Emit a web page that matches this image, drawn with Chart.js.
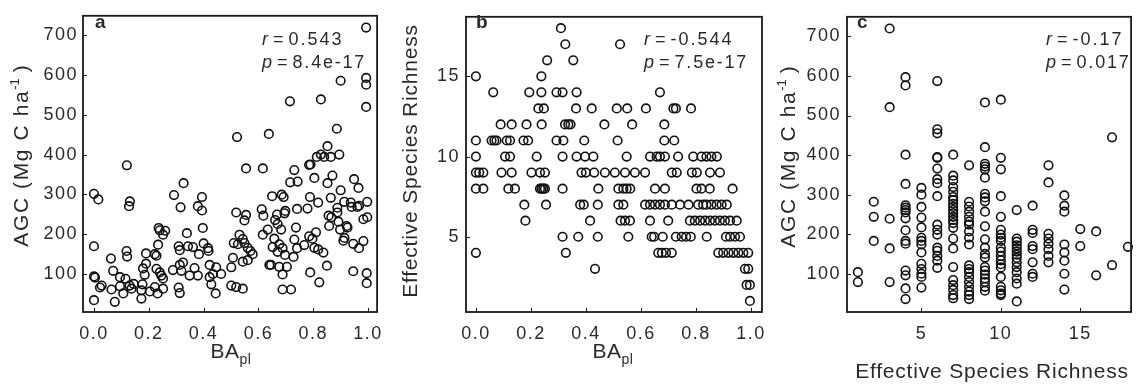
<!DOCTYPE html>
<html>
<head>
<meta charset="utf-8">
<script src="https://cdn.jsdelivr.net/npm/chart.js@4.4.1/dist/chart.umd.min.js"></script>
<style>
  html, body { margin: 0; padding: 0; background: #fff; }
  #wrap { position: relative; width: 1137px; height: 385px; overflow: hidden; }
  canvas { position: absolute; top: 0; }
</style>
</head>
<body>
<div id="wrap">
  <canvas id="chartA" width="392" height="385" style="left:0px"></canvas>
  <canvas id="chartB" width="395" height="385" style="left:380px"></canvas>
  <canvas id="chartC" width="372" height="385" style="left:765px"></canvas>
</div>
<script>
// ---- panel a : BA_pl vs AGC ----
const baplA = [
  0.12,0.327,0.0,0.016,0.131,0.128,0.292,0.316,0.394,0.379,
  0.394,0.397,0.236,0.24,0.26,0.252,0.339,0.0,0.234,0.119,
  0.121,0.062,0.19,0.222,0.228,0.309,0.313,0.343,0.361,0.383,
  0.4,0.416,0.418,0.19,0.179,0.185,0.07,0.0,0.095,0.115,
  0.145,0.028,0.022,0.064,0.095,0.107,0.137,0.13,0.177,0.173,
  0.173,0.076,0.0,0.204,0.222,0.232,0.252,0.228,0.24,0.246,
  0.252,0.288,0.313,0.325,0.319,0.309,0.313,0.349,0.367,0.379,
  0.422,0.422,0.434,0.446,0.428,0.444,0.464,0.004,
  0.886,0.522,0.638,0.852,0.828,0.813,0.84,0.864,0.895,0.785,
  0.79,0.555,0.616,0.731,0.716,0.743,0.804,0.87,0.852,0.949,
  0.965,0.9,0.65,0.685,0.692,0.788,0.818,0.864,0.913,0.937,
  0.961,0.997,0.967,0.94,0.888,0.856,0.866,0.888,0.892,0.922,
  0.925,0.858,0.898,0.983,0.997,0.519,0.555,0.549,0.612,0.618,
  0.668,0.661,0.67,0.698,0.695,0.741,0.779,0.737,0.683,0.634,
  0.616,0.531,0.51,0.525,0.543,0.549,0.561,0.579,0.571,0.507,
  0.501,0.543,0.561,0.658,0.652,0.676,0.688,0.67,0.697,0.728,
  0.731,0.741,0.767,0.785,0.81,0.797,0.804,0.818,0.837,0.91,
  0.914,0.946,0.967,0.983,0.64,0.646,0.676,0.704,0.688,0.789,
  0.85,0.822,0.946,0.995,0.995,0.501,0.519,0.543,0.688,0.719,
  0.993,0.993,0.993,0.993,0.9,0.715,0.828
];
const agcA = [
  373,328,301,287,282,270,298,267,293,270,
  259,215,215,209,208,198,202,169,173,157,
  143,138,151,149,145,169,159,169,167,149,
  176,164,157,125,113,97,107,93,91,87,
  74,70,65,60,68,50,62,70,73,58,
  37,29,33,55,66,50,62,112,103,95,
  88,109,122,128,107,65,51,95,114,95,
  91,122,99,116,73,50,99,90,
  465,444,452,421,400,394,394,394,400,374,
  375,365,365,361,330,332,341,347,328,338,
  316,310,295,299,293,293,279,291,281,279,
  268,281,271,268,266,246,242,254,231,220,
  216,220,211,237,242,254,248,234,262,246,
  249,235,225,258,252,263,264,216,211,211,
  198,198,177,174,187,177,165,149,157,140,
  116,130,134,188,167,174,164,155,147,142,
  186,164,172,194,204,188,165,161,153,183,
  190,175,164,182,122,122,117,117,98,103,
  120,78,106,101,76,70,66,62,60,60,
  720,593,576,520,586,534,539
];

// ---- panel b : BA_pl vs effective species richness (one list per richness level) ----
const richLevelsB = [18,17,16,15,14,13,12,11,10,9,8,7,6,5,4,3,2,1];
const baplB = [
  [0.309],
  [0.325,0.524],
  [0.259,0.354],
  [0.0,0.238],
  [0.063,0.194,0.238,0.293,0.315,0.366,0.669],
  [0.227,0.247,0.364,0.421,0.512,0.55,0.618,0.718,0.727,0.782],
  [0.09,0.13,0.184,0.239,0.324,0.336,0.344,0.467,0.568,0.685],
  [0.0,0.057,0.067,0.075,0.112,0.124,0.173,0.19,0.293,0.318,0.394,0.515,0.685,0.721],
  [0.0,0.106,0.124,0.221,0.315,0.366,0.397,0.427,0.548,0.633,0.657,0.669,0.687,0.735,0.79,0.82,0.838,0.856,0.876],
  [0.0,0.012,0.027,0.093,0.13,0.202,0.233,0.251,0.384,0.4,0.43,0.469,0.505,0.542,0.578,0.615,0.712,0.73,0.785,0.803,0.851,0.887],
  [0.0,0.027,0.118,0.142,0.233,0.239,0.245,0.251,0.315,0.445,0.518,0.536,0.548,0.561,0.651,0.687,0.802,0.82,0.85,0.933],
  [0.176,0.255,0.379,0.392,0.443,0.518,0.536,0.615,0.633,0.651,0.669,0.687,0.712,0.742,0.773,0.808,0.826,0.838,0.856,0.875,0.893,0.912],
  [0.18,0.415,0.526,0.542,0.56,0.633,0.699,0.778,0.796,0.815,0.833,0.851,0.869,0.887,0.905,0.924,0.948],
  [0.315,0.372,0.443,0.554,0.639,0.648,0.679,0.727,0.748,0.764,0.781,0.839,0.909,0.924,0.942,0.96],
  [0.0,0.327,0.663,0.676,0.691,0.712,0.881,0.899,0.918,0.936,0.954,0.972,0.99],
  [0.433,0.978,0.99],
  [0.984,0.996],
  [0.996]
];

// ---- panel c : effective species richness vs AGC (one list per richness level) ----
const richLevelsC = [1,2,3,4,5,6,7,8,9,10,11,12,13,14,15,16,17,18];
const agcC = [
  [104,79],
  [282,244,183],
  [720,521,239,164,79],
  [597,576,401,327,273,267,261,255,240,210,183,176,108,96,63,36],
  [317,300,269,242,217,191,183,174,154,125,112,100,92,65],
  [587,465,455,395,393,366,339,329,296,224,211,199,166,158,145,133,115],
  [401,348,336,319,307,294,286,277,269,261,253,244,236,228,216,189,164,117,84,71,59,46,38],
  [374,282,270,257,244,232,224,207,191,174,121,112,104,92,79,67,55,46,36],
  [533,420,378,371,364,343,302,293,283,257,220,187,166,150,141,117,108,98,88,79,67,57],
  [540,393,364,296,244,211,199,191,183,166,156,145,134,124,116,92,67,58,50,46],
  [261,189,181,172,164,156,148,140,129,117,104,88,75,30],
  [272,211,203,170,162,129,100,92],
  [374,331,201,189,176,162,145,129],
  [298,272,257,174,154,133,100,60],
  [213,170],
  [207,96],
  [445,122],
  [168]
];

// tick values
const baTicks = [0, 0.2, 0.4, 0.6, 0.8, 1.0];
const agcTicks = [100, 200, 300, 400, 500, 600, 700];
const richTicksB = [5, 10, 15];
const richTicksC = [5, 10, 15];

const FONT = '"Liberation Sans", Arial, sans-serif';
const TXT = '#2a2a2a';

function drawRuns(ctx, runs, x, y, align) {
  let total = 0;
  const widths = runs.map(r => {
    ctx.font = (r.style || '') + ' ' + r.size + 'px ' + FONT;
    ctx.letterSpacing = (r.spacing || 0) + 'px';
    const w = ctx.measureText(r.t).width;
    total += w;
    return w;
  });
  let cx = align === 'center' ? x - total / 2 : x;
  runs.forEach((r, i) => {
    ctx.font = (r.style || '') + ' ' + r.size + 'px ' + FONT;
    ctx.letterSpacing = (r.spacing || 0) + 'px';
    ctx.fillText(r.t, cx, y + (r.dy || 0));
    cx += widths[i];
  });
}

// frame, inward ticks, panel letter, stats and axis titles
const panelDeco = {
  id: 'panelDeco',
  beforeDraw(chart) {
    chart.ctx.letterSpacing = '1.5px';
  },
  afterDraw(chart, args, o) {
    const {ctx, chartArea: ca} = chart;
    const xs = chart.scales.x, ys = chart.scales.y;
    ctx.save();
    ctx.strokeStyle = '#1a1a1a';
    ctx.lineWidth = 1;
    xs.ticks.forEach(t => {
      const px = Math.round(xs.getPixelForValue(t.value)) + 0.5;
      ctx.beginPath(); ctx.moveTo(px, ca.bottom); ctx.lineTo(px, ca.bottom - 4); ctx.stroke();
    });
    ys.ticks.forEach(t => {
      const py = Math.round(ys.getPixelForValue(t.value)) + 0.5;
      ctx.beginPath(); ctx.moveTo(ca.left, py); ctx.lineTo(ca.left + 4, py); ctx.stroke();
    });
    ctx.lineWidth = 1.8;
    ctx.strokeRect(ca.left, ca.top, ca.right - ca.left, ca.bottom - ca.top);

    ctx.fillStyle = TXT;
    ctx.textAlign = 'left';
    ctx.textBaseline = 'alphabetic';
    drawRuns(ctx, [{t: o.letter, style: 'bold', size: 19}], o.letterX, 28, 'left');
    drawRuns(ctx, [{t: 'r', style: 'italic', size: 18}, {t: ' = ', size: 18}, {t: o.r, size: 18, spacing: 2}], o.statX, 45, 'left');
    drawRuns(ctx, [{t: 'p', style: 'italic', size: 18}, {t: ' = ', size: 18}, {t: o.p, size: 18, spacing: 1.8}], o.statX, 68, 'left');

    drawRuns(ctx, o.xTitle, o.xTitleX, o.xTitleY, 'center');
    ctx.translate(o.yTitleX, o.yTitleY);
    ctx.rotate(-Math.PI / 2);
    drawRuns(ctx, o.yTitle, 0, 0, 'center');
    ctx.restore();
  }
};

const baTitle = [{t: 'BA', size: 21, spacing: 0.5}, {t: 'pl', size: 14, dy: 6, spacing: 0.5}];
const agcTitle = [{t: 'AGC (Mg C ha', size: 21, spacing: 1.6}, {t: '-1', size: 13, dy: -9}, {t: ' )', size: 21}];
const esrTitle = [{t: 'Effective Species Richness', size: 21, spacing: 0.8}];

function makePanel(id, cfg) {
  const tickFont = {family: FONT, size: 18};
  return new Chart(document.getElementById(id), {
    type: 'scatter',
    data: {
      datasets: [{
        data: cfg.points,
        pointRadius: 4.3,
        pointHoverRadius: 4.3,
        pointBorderWidth: 1.6,
        pointBorderColor: '#111',
        pointBackgroundColor: 'rgba(0,0,0,0)'
      }]
    },
    options: {
      responsive: false,
      animation: false,
      events: [],
      clip: false,
      layout: {padding: {left: 0, right: cfg.padRight, top: 11, bottom: 0}},
      plugins: {legend: {display: false}, tooltip: {enabled: false}, panelDeco: cfg.deco},
      scales: {
        x: {
          type: 'linear', min: cfg.xMin, max: cfg.xMax,
          grid: {display: false, drawTicks: false}, border: {display: false},
          ticks: {font: tickFont, color: TXT, padding: 11, maxRotation: 0, autoSkip: false, callback: cfg.xFmt},
          afterBuildTicks: s => { s.ticks = cfg.xTicks.map(v => ({value: v})); },
          afterFit: s => { s.height = 73; }
        },
        y: {
          type: 'linear', min: cfg.yMin, max: cfg.yMax,
          grid: {display: false, drawTicks: false}, border: {display: false},
          ticks: {font: tickFont, color: TXT, padding: cfg.yPad, autoSkip: false, callback: v => String(v)},
          afterBuildTicks: s => { s.ticks = cfg.yTicks.map(v => ({value: v})); },
          afterFit: s => { s.width = cfg.left; }
        }
      }
    },
    plugins: [panelDeco]
  });
}

const pointsA = baplA.map((x, i) => ({x: x, y: agcA[i]}));
const pointsB = [];
richLevelsB.forEach((r, i) => baplB[i].forEach(x => pointsB.push({x: x, y: r})));
const pointsC = [];
richLevelsC.forEach((r, i) => agcC[i].forEach(y => pointsC.push({x: r, y: y})));

makePanel('chartA', {
  points: pointsA, left: 83, padRight: 14,
  xMin: -0.04, xMax: 1.033, xTicks: baTicks, xFmt: v => v.toFixed(1),
  yMin: 3.3, yMax: 749.6, yTicks: agcTicks, yPad: 5,
  deco: {letter: 'a', letterX: 95, statX: 262, r: '0.543', p: '8.4e-17',
         xTitle: baTitle, xTitleX: 231, xTitleY: 358, yTitle: agcTitle, yTitleX: 28, yTitleY: 156}
});
makePanel('chartB', {
  points: pointsB, left: 86, padRight: 13,
  xMin: -0.036, xMax: 1.04, xTicks: baTicks, xFmt: v => v.toFixed(1),
  yMin: 0.31, yMax: 18.71, yTicks: richTicksB, yPad: 6,
  deco: {letter: 'b', letterX: 96, statX: 264, r: '-0.544', p: '7.5e-17',
         xTitle: baTitle, xTitleX: 233, xTitleY: 358, yTitle: esrTitle, yTitleX: 36.5, yTitleY: 161}
});
makePanel('chartC', {
  points: pointsC, left: 82, padRight: 1,
  xMin: 0.316, xMax: 18.2, xTicks: richTicksC, xFmt: v => String(v),
  yMin: 3.3, yMax: 749.6, yTicks: agcTicks, yPad: 6,
  deco: {letter: 'c', letterX: 92, statX: 281, r: '-0.17', p: '0.017',
         xTitle: esrTitle, xTitleX: 227, xTitleY: 378, yTitle: agcTitle, yTitleX: 30, yTitleY: 157}
});
</script>
</body>
</html>
